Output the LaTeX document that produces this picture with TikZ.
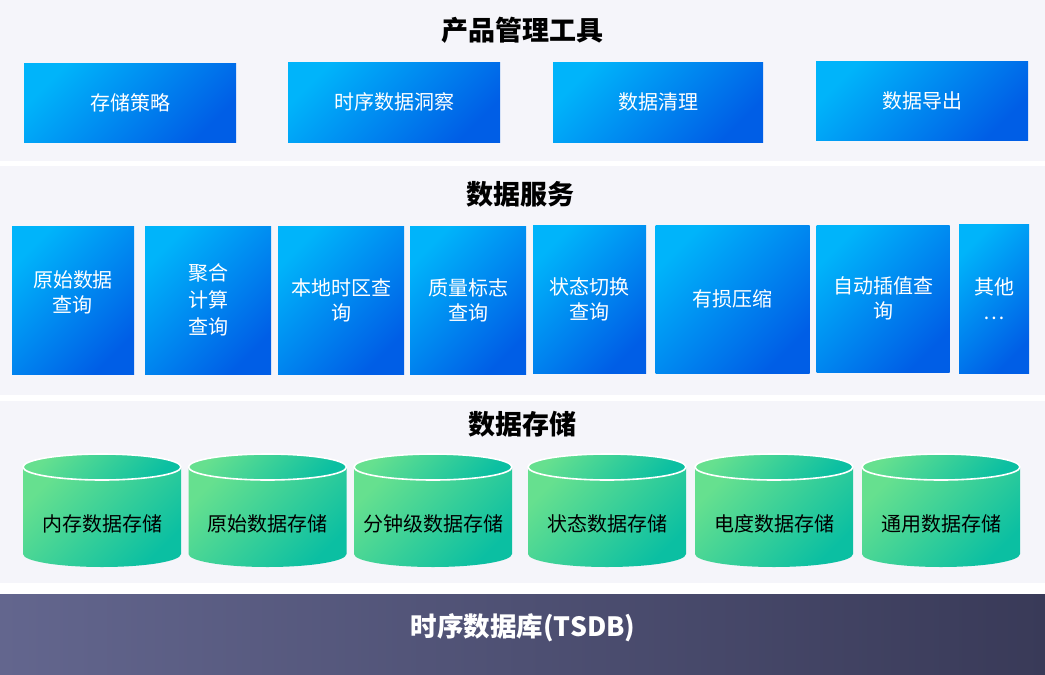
\documentclass[tikz,border=0pt]{standalone}
\usepackage{fontspec}
\setmainfont{Noto Sans CJK SC}
\definecolor{panelbg}{HTML}{F5F5FA}
\definecolor{blueA}{HTML}{00B4FA}
\definecolor{blueB}{HTML}{005EE6}
\definecolor{greenA}{HTML}{66E08F}
\definecolor{greenB}{HTML}{0BBFA2}
\definecolor{barA}{HTML}{63668E}
\definecolor{barB}{HTML}{393A58}
\begin{document}
\begin{tikzpicture}[x=1pt,y=1pt,
  panel/.style={fill=panelbg},
  title/.style={inner sep=0pt, font=\fontsize{27}{30}\selectfont\bfseries, text=black},
  bluebox/.style={inner sep=0pt, text=white, align=center,
    font=\fontsize{20}{25}\selectfont,
    top color=blueA, bottom color=blueB, shading angle=45},
  wtext/.style={inner sep=0pt, text=white, align=center, font=\fontsize{20}{25}\selectfont},
  cylfill/.style={top color=greenA, bottom color=greenB, shading angle=45},
  cyltext/.style={inner sep=0pt, text=black, font=\fontsize{20}{24}\selectfont},
  barbox/.style={inner sep=0pt, left color=barA, right color=barB},
  bartext/.style={inner sep=0pt, text=white, font=\fontsize{26.5}{30}\selectfont\bfseries}
]
\useasboundingbox (0,0) rectangle (1045,-675);
\fill[white] (0,0) rectangle (1045,-675);
% panels
\fill[panel] (0,0) rectangle (1045,-161);
\fill[panel] (0,-166) rectangle (1045,-395);
\fill[panel] (0,-401) rectangle (1045,-583);

% product tools
\node[title] (t1) at (522,-30) {产品管理工具};
\node[bluebox, minimum width=212pt, minimum height=79pt] (tb1) at (130,-102.5) {存储策略};
\node[bluebox, minimum width=212pt, minimum height=80pt] (tb2) at (394,-102) {时序数据洞察};
\node[bluebox, minimum width=210pt, minimum height=80pt] (tb3) at (658,-102) {数据清理};
\node[bluebox, minimum width=212pt, minimum height=79pt] (tb4) at (922,-100.5) {数据导出};

% data services
\node[title] (t2) at (520,-194) {数据服务};
\node[bluebox, minimum width=122pt, minimum height=148pt] (s1) at (73,-300) {};
\node[wtext] (s1t) at (73,-292) {原始数据\\查询};
\node[bluebox, minimum width=126pt, minimum height=148pt, font=\fontsize{20}{27}\selectfont] (s2) at (208,-300) {聚合\\计算\\查询};
\node[bluebox, minimum width=126pt, minimum height=148pt] (s3) at (341,-300) {本地时区查\\询};
\node[bluebox, minimum width=116pt, minimum height=148pt] (s4) at (468,-300) {质量标志\\查询};
\node[bluebox, minimum width=113pt, minimum height=148pt] (s5) at (589.5,-299) {状态切换\\查询};
\node[bluebox, minimum width=154pt, minimum height=148pt] (s6) at (732.5,-299) {有损压缩};
\node[bluebox, minimum width=133pt, minimum height=147pt] (s7) at (883,-298.5) {自动插值查\\询};
\node[bluebox, minimum width=70pt, minimum height=149pt] (s8) at (994,-298.5) {其他\\…};

% data storage
\node[title] (t3) at (522,-424.5) {数据存储};
\foreach \cx/\nm/\txt in {102/c1/内存数据存储, 267.5/c2/原始数据存储, 433/c3/分钟级数据存储,
    607/c4/状态数据存储, 774/c5/电度数据存储, 941/c6/通用数据存储} {
  \shade[cylfill] (\cx-79,-467) -- (\cx-79,-554)
     arc[start angle=180, end angle=360, x radius=79, y radius=13]
     -- (\cx+79,-467) -- cycle;
  \shade[cylfill, draw=white, line width=1.6pt] (\cx,-467) ellipse[x radius=79, y radius=13];
  \node[cyltext] (\nm) at (\cx,-524) {\txt};
}

% bottom bar
\node[barbox, minimum width=1045pt, minimum height=81pt] (bar) at (522.5,-634.5) {};
\node[bartext] (bart) at (523,-628) {时序数据库(TSDB)};
\end{tikzpicture}
\end{document}
